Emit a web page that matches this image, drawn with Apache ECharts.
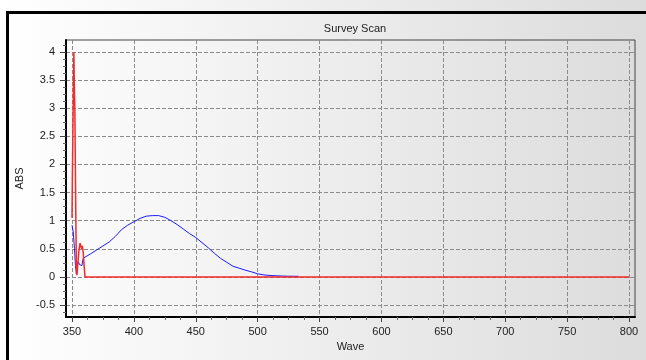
<!DOCTYPE html>
<html><head><meta charset="utf-8">
<script src="https://cdn.jsdelivr.net/npm/echarts@6/dist/echarts.min.js"></script>
<style>html,body{margin:0;padding:0;}#c{width:646px;height:360px;}</style>
</head><body><div id="c"></div>
<script>
const xTicks = [350, 400, 450, 500, 550, 600, 650, 700, 750, 800];
const yTicks = [-0.5, 0, 0.5, 1, 1.5, 2, 2.5, 3, 3.5, 4];

const blueWave = [350, 351, 352, 352.8, 353.5, 354.3, 355.2, 356, 357, 358, 359, 360, 365, 370, 375, 380, 385, 390, 395, 400, 405, 410, 415, 420, 425, 430, 435, 440, 445, 450, 455, 460, 465, 470, 475, 480, 485, 490, 495, 500, 505, 510, 515, 520, 525, 533];
const blueAbs  = [0.92, 0.80, 0.50, 0.20, 0.05, 0.20, 0.27, 0.22, 0.25, 0.20, 0.33, 0.35, 0.41, 0.48, 0.55, 0.62, 0.72, 0.84, 0.92, 0.98, 1.04, 1.08, 1.09, 1.09, 1.06, 1.00, 0.93, 0.85, 0.77, 0.70, 0.61, 0.52, 0.42, 0.33, 0.26, 0.19, 0.155, 0.12, 0.09, 0.055, 0.035, 0.025, 0.02, 0.015, 0.012, 0.01];

const redWave = [350.0, 350.3, 351.3, 351.5, 351.9, 352.0, 352.3, 353.0, 353.1, 353.5, 354.0, 354.6, 355.5, 356.5, 357.2, 357.8, 358.3, 359.0, 359.8, 360.5, 800];
const redAbs  = [1.05, 1.78, 1.78, 4.0, 4.0, 3.25, 3.02, 3.0, 1.05, 0.25, 0.03, 0.2, 0.45, 0.6, 0.62, 0.5, 0.55, 0.45, 0.2, 0.0, 0.0];

const blueData = blueWave.map((w, i) => [w, blueAbs[i]]);
const redData = redWave.map((w, i) => [w, redAbs[i]]);

const chart = echarts.init(document.getElementById('c'), null, {renderer: 'canvas'});
const labelFont = {fontFamily: 'Liberation Sans', fontSize: 11, color: '#222'};
const dash = {color: '#8c8c8c', width: 1, type: [4, 2]};

chart.setOption({
  animation: false,
  backgroundColor: {type: 'linear', x: 0, y: 0, x2: 1, y2: 0, colorStops: [{offset: 0, color: '#ffffff'}, {offset: 1, color: '#dcdcdc'}]},
  title: {text: 'Survey Scan', left: 350, top: 18, textAlign: 'center',
    textStyle: {fontFamily: 'Liberation Sans', fontSize: 11, fontWeight: 'normal', color: '#222'}},
  graphic: [
    {type: 'rect', shape: {x: 6, y: 11, width: 640, height: 3}, style: {fill: '#000'}},
    {type: 'rect', shape: {x: 6, y: 11, width: 3, height: 349}, style: {fill: '#000'}}
  ],
  grid: {left: 66, right: 11, top: 40, bottom: 43, show: true, borderColor: '#444', borderWidth: 1, backgroundColor: 'transparent'},
  xAxis: {
    type: 'value', min: 345.153, max: 804.847, splitNumber: 9,
    name: 'Wave', nameLocation: 'middle', nameGap: 21,
    nameTextStyle: labelFont,
    axisLine: {show: true, onZero: false, lineStyle: {color: '#000', width: 2}},
    axisTick: {show: true, length: 5, customValues: xTicks, lineStyle: {color: '#444'}},
    minorTick: {show: true, splitNumber: 4, length: 3, lineStyle: {color: '#666'}},
    axisLabel: {customValues: xTicks, margin: 9, ...labelFont},
    splitLine: {show: true, lineStyle: dash}
  },
  yAxis: {
    type: 'value', min: -0.7134, max: 4.2134, splitNumber: 10,
    name: 'ABS', nameLocation: 'middle', nameGap: 30,
    nameTextStyle: labelFont,
    axisLine: {show: true, onZero: false, lineStyle: {color: '#000', width: 2}},
    axisTick: {show: true, length: 6, customValues: yTicks, lineStyle: {color: '#444'}},
    minorTick: {show: true, splitNumber: 4, length: 3, lineStyle: {color: '#666'}},
    axisLabel: {customValues: yTicks, margin: 11, ...labelFont},
    splitLine: {show: true, lineStyle: dash}
  },
  series: [
    {type: 'line', data: blueData, showSymbol: false, lineStyle: {color: '#1a1aff', width: 1}, z: 3},
    {type: 'line', data: redData, showSymbol: false, lineStyle: {color: '#f52a2a', width: 1.5}, z: 4}
  ]
});
</script></body></html>
